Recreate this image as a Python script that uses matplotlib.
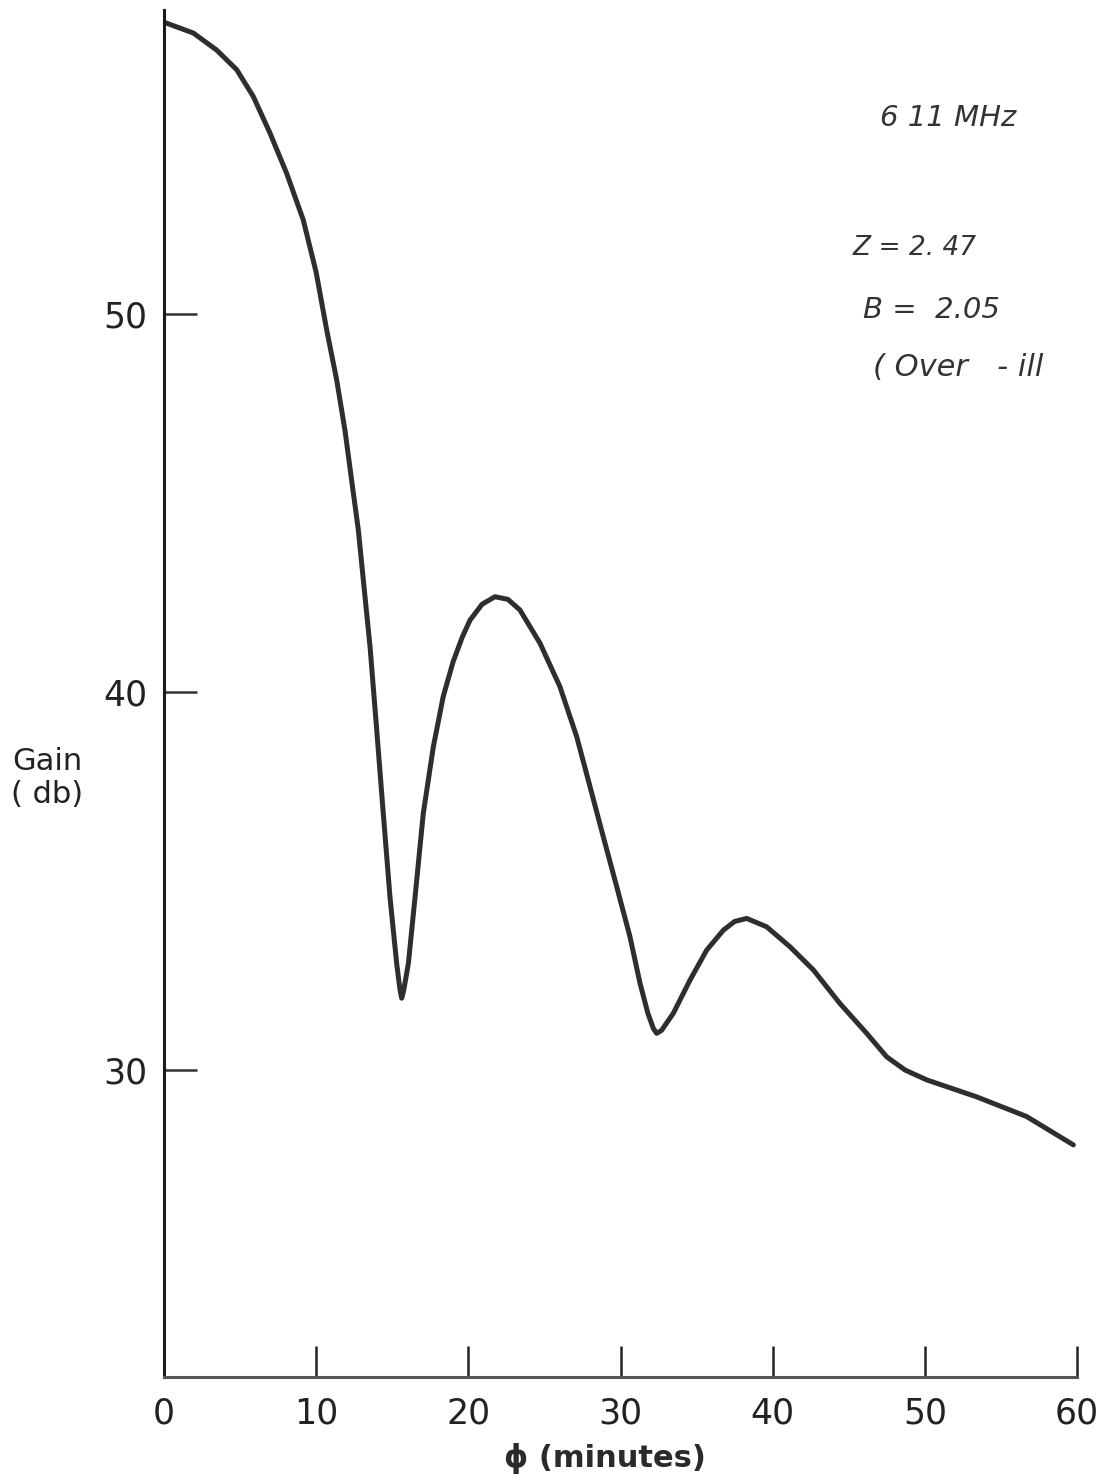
import matplotlib.pyplot as plt

# phi (minutes) vs gain (db)
phi = [0, 0.18, 1.93, 3.46, 4.78, 5.87, 6.97, 8.06, 9.15, 10.0, 10.69, 11.35, 11.89,
       12.33, 12.77, 13.1, 13.54, 13.98, 14.41, 14.85, 15.29, 15.5, 15.62, 15.75, 16.06,
       16.5, 17.04, 17.7, 18.35, 19.0, 19.6, 20.11, 20.9, 21.75, 22.6, 23.39, 24.71,
       26.02, 27.12, 28.0, 28.87, 29.75, 30.62, 31.28, 31.8, 32.16, 32.38, 32.7, 33.47,
       34.57, 35.66, 36.76, 37.5, 38.29, 39.6, 41.14, 42.67, 44.42, 46.18, 47.49, 48.7,
       50.12, 53.41, 56.69, 59.76]
gain = [57.72, 57.69, 57.43, 56.98, 56.46, 55.75, 54.78, 53.72, 52.49, 51.1, 49.58, 48.25, 46.93,
        45.6, 44.29, 42.96, 41.2, 38.99, 36.79, 34.58, 32.82, 32.15, 31.9, 32.1, 32.82,
        34.58, 36.79, 38.55, 39.88, 40.8, 41.45, 41.9, 42.32, 42.52, 42.45, 42.17, 41.29,
        40.14, 38.82, 37.49, 36.17, 34.85, 33.53, 32.3, 31.5, 31.1, 30.97, 31.05, 31.5,
        32.38, 33.17, 33.7, 33.93, 34.01, 33.79, 33.26, 32.65, 31.76, 30.97, 30.35, 30.0,
        29.74, 29.29, 28.77, 28.02]

xticks = [0, 10, 20, 30, 40, 50, 60]
yticks = [30, 40, 50]
notes = ["6 11 MHz", "Z = 2. 47", "B =  2.05", "( Over   - ill"]

W, H = 1105, 1481
fig = plt.figure(figsize=(W / 100, H / 100), dpi=100)
ax = fig.add_axes([164 / W, 1 - 1377 / H, (1077 - 164) / W, (1377 - 10) / H])

ax.plot(phi, gain, color="#2e2e2e", lw=3.6, solid_joinstyle="round", solid_capstyle="round")

ax.set_xlim(0, 60)
ax.set_ylim(21.88, 58.04)
for s in ["top", "right"]:
    ax.spines[s].set_visible(False)
ax.spines["left"].set_linewidth(2.2)
ax.spines["left"].set_color("#1a1a1a")
ax.spines["bottom"].set_linewidth(2.2)
ax.spines["bottom"].set_color("#555555")

ax.set_xticks(xticks)
ax.set_xticklabels(["0" if t == 0 else str(t) for t in xticks])
ax.set_yticks(yticks)
ax.tick_params(axis="x", direction="in", length=22, width=1.8, color="#222222", pad=14,
               labelsize=25, labelcolor="#222222")
ax.tick_params(axis="y", direction="in", length=24, width=1.8, color="#333333", pad=12,
               labelsize=25, labelcolor="#222222")

fig.text(47 / W, 1 - 778 / H, "Gain\n( db)", ha="center", va="center", fontsize=22,
         color="#222222", linespacing=1.15)
fig.text(605 / W, 1 - 1458 / H, "ϕ (minutes)", ha="center", va="center", fontsize=22,
         fontweight="bold", color="#2a2a2a")

# handwritten notes at upper right
hand = dict(family="DejaVu Sans", style="italic", color="#333333", fontweight="light")
fig.text(880 / W, 1 - 118 / H, notes[0], fontsize=21, va="center", **hand)
fig.text(853 / W, 1 - 248 / H, notes[1], fontsize=19, va="center", **hand)
fig.text(863 / W, 1 - 310 / H, notes[2], fontsize=21, va="center", **hand)
fig.text(873 / W, 1 - 368 / H, notes[3], fontsize=22, va="center", **hand)

fig.savefig("out.png", dpi=100)
